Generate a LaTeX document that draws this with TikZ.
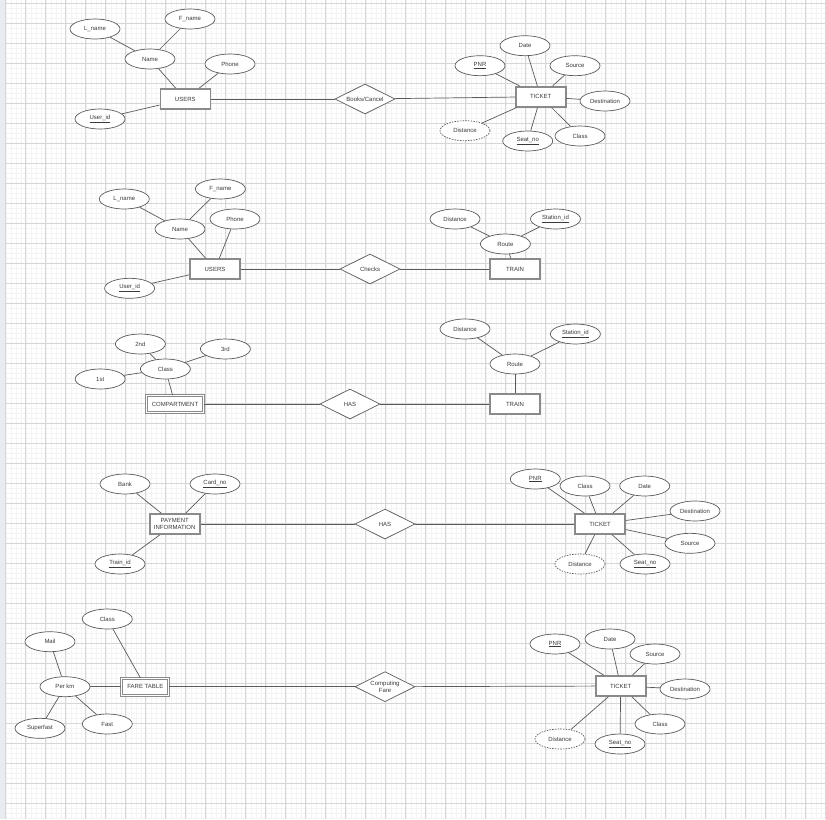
\documentclass[tikz,border=0pt]{standalone}
\usepackage{fontspec}
\setmainfont{Liberation Sans}
\usetikzlibrary{shapes.geometric}
\definecolor{gmaj}{HTML}{D6D6D6}
\definecolor{gmin}{HTML}{F4F4F4}
\definecolor{gleft}{HTML}{E8EBEF}
\definecolor{ln}{HTML}{5A5A5A}
\definecolor{bx}{HTML}{8A8A8A}
\definecolor{txt}{HTML}{3A3A3A}
\begin{document}
\begin{tikzpicture}[x=1pt,y=-1pt,
  lbl/.style={text=txt,font=\fontsize{6}{6.5}\selectfont},
  attr/.style={lbl,ellipse,draw=ln,line width=0.7pt,minimum width=50pt,minimum height=20pt,inner sep=0pt,fill=white},
  dattr/.style={attr,dash pattern=on 1.5pt off 1.2pt},
  ent/.style={lbl,rectangle,draw=bx,line width=1.6pt,minimum width=50pt,minimum height=20pt,inner sep=0pt,fill=white,align=center},
  wk/.style={lbl,rectangle,draw=bx,double,double distance=1.3pt,line width=0.7pt,minimum width=50pt,minimum height=20pt,inner sep=0pt,fill=white},
  rel/.style={lbl,diamond,draw=ln,line width=0.7pt,minimum width=60pt,minimum height=30pt,inner sep=0pt,aspect=2,fill=white,align=center},
  con/.style={draw=ln,line width=0.7pt}]
\useasboundingbox (0,0) rectangle (826,819);
% background grid
\fill[white] (0,0) rectangle (826,819);
\fill[gleft] (0,0) rectangle (4.5,819);
\foreach \i in {0,...,164} {\draw[gmin,line width=0.4pt] ({5.7+5*\i},0) -- ({5.7+5*\i},819);}
\foreach \i in {0,...,163} {\draw[gmin,line width=0.4pt] (4.5,{3.5+5*\i}) -- (826,{3.5+5*\i});}
\foreach \i in {0,...,41} {\draw[gmaj,line width=0.9pt] ({5.7+20*\i},0) -- ({5.7+20*\i},819);}
\foreach \i in {0,...,40} {\draw[gmaj,line width=0.9pt] (4.5,{3.5+20*\i}) -- (826,{3.5+20*\i});}

% ===== Section 1 =====
\node[attr] (aL) at (95,29) {L\_name};
\node[attr] (aF) at (190,19) {F\_name};
\node[attr] (aN) at (150,59) {Name};
\node[attr] (aP) at (230,64) {Phone};
\node[ent] (aU) at (185.3,99) {USERS};
\node[attr] (aI) at (100,119) {\underline{User\_id}};
\node[rel] (aB) at (365,99) {Books/Cancel};
\node[ent] (aT) at (540.7,96.7) {TICKET};
\node[attr] (aDate) at (525,45.7) {Date};
\node[attr] (aPNR) at (480,65.7) {\underline{PNR}};
\node[attr] (aSrc) at (575,65.7) {Source};
\node[attr] (aDest) at (605,101) {Destination};
\node[dattr] (aDist) at (465,130.7) {Distance};
\node[attr] (aSeat) at (527.7,141) {\underline{Seat\_no}};
\node[attr] (aCls) at (580,136) {Class};
\foreach \a/\b in {aN/aL,aN/aF,aN/aU,aP/aU,aI/aU,aU/aB,aB/aT,aDate/aT,aPNR/aT,aSrc/aT,aDest/aT,aDist/aT,aSeat/aT,aCls/aT}
  {\draw[con] (\a) -- (\b);}

% ===== Section 2 =====
\node[attr] (bL) at (124.3,199) {L\_name};
\node[attr] (bF) at (220.4,189) {F\_name};
\node[attr] (bN) at (180,229) {Name};
\node[attr] (bP) at (235,219) {Phone};
\node[ent] (bU) at (215,269) {USERS};
\node[attr] (bI) at (129.6,288.3) {\underline{User\_id}};
\node[rel] (bC) at (370,269) {Checks};
\node[ent] (bT) at (515,269) {TRAIN};
\node[attr] (bDist) at (455,219) {Distance};
\node[attr] (bSt) at (555.5,219) {\underline{Station\_id}};
\node[attr] (bR) at (505.4,244) {Route};
\foreach \a/\b in {bN/bL,bN/bF,bN/bU,bP/bU,bI/bU,bU/bC,bC/bT,bR/bT,bR/bDist,bR/bSt}
  {\draw[con] (\a) -- (\b);}

% ===== Section 3 =====
\node[attr] (c2) at (140.4,344) {2nd};
\node[attr] (c3) at (225.4,349) {3rd};
\node[attr] (cC) at (165.4,369) {Class};
\node[attr] (c1) at (100.2,379) {1st};
\node[wk,minimum width=57pt,minimum height=17pt] (cM) at (175,404) {COMPARTMENT};
\node[rel] (cH) at (350,404) {HAS};
\node[ent] (cT) at (515,404) {TRAIN};
\node[attr] (cDist) at (465,329) {Distance};
\node[attr] (cSt) at (575.4,334) {\underline{Station\_id}};
\node[attr] (cR) at (515,364) {Route};
\foreach \a/\b in {cC/c2,cC/c3,cC/c1,cC/cM,cM/cH,cH/cT,cR/cT,cR/cDist,cR/cSt}
  {\draw[con] (\a) -- (\b);}

% ===== Section 4 =====
\node[attr] (dB) at (125,484) {Bank};
\node[attr] (dC) at (215,484) {\underline{Card\_no}};
\node[ent] (dP) at (174.7,524) {PAYMENT\\INFORMATION};
\node[attr] (dI) at (120,564) {\underline{Train\_id}};
\node[rel] (dH) at (385,524) {HAS};
\node[ent] (dT) at (600,524) {TICKET};
\node[attr] (dPNR) at (535.3,479) {\underline{PNR}};
\node[attr] (dCls) at (585,486) {Class};
\node[attr] (dDate) at (644.7,486) {Date};
\node[attr] (dDest) at (695,511) {Destination};
\node[attr] (dSrc) at (690,543.3) {Source};
\node[attr] (dSeat) at (645,564) {\underline{Seat\_no}};
\node[dattr] (dDist) at (580,564) {Distance};
\foreach \a/\b in {dB/dP,dC/dP,dI/dP,dP/dH,dH/dT,dPNR/dT,dCls/dT,dDate/dT,dDest/dT,dSrc/dT,dSeat/dT,dDist/dT}
  {\draw[con] (\a) -- (\b);}

% ===== Section 5 =====
\node[attr] (eC) at (107.3,619) {Class};
\node[attr] (eM) at (50,641.7) {Mail};
\node[attr] (eK) at (65,686.7) {Per km};
\node[wk,minimum width=47pt,minimum height=17pt] (eF) at (145.3,686.7) {FARE TABLE};
\node[attr] (eS) at (40,728.3) {Superfast};
\node[attr] (eFa) at (107.3,724) {Fast};
\node[rel] (eCF) at (385,686.7) {Computing\\Fare};
\node[ent] (eT) at (620.7,686) {TICKET};
\node[attr] (ePNR) at (555,644) {\underline{PNR}};
\node[attr] (eDate) at (610,639) {Date};
\node[attr] (eSrc) at (655,654) {Source};
\node[attr] (eDest) at (685,689) {Destination};
\node[attr] (eCls) at (660,724) {Class};
\node[attr] (eSeat) at (620,744) {\underline{Seat\_no}};
\node[dattr] (eDist) at (560,739) {Distance};
\foreach \a/\b in {eC/eF,eM/eK,eK/eS,eK/eFa,eK/eF,eF/eCF,eCF/eT,ePNR/eT,eDate/eT,eSrc/eT,eDest/eT,eCls/eT,eSeat/eT,eDist/eT}
  {\draw[con] (\a) -- (\b);}
\end{tikzpicture}
\end{document}
